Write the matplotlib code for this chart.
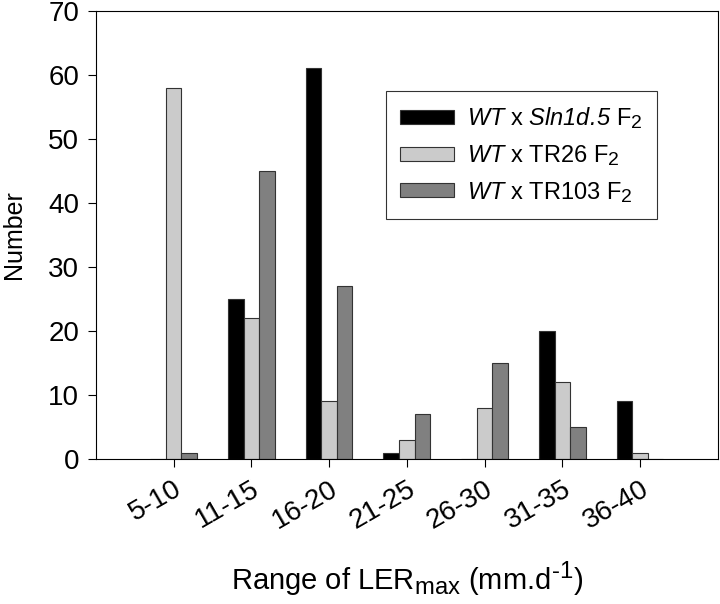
import numpy as np
import matplotlib
from matplotlib import pyplot as plt
import matplotlib._mathtext as mt

# the original figure uses larger sub/superscripts than mathtext's default
mt.SHRINK_FACTOR = 0.82

plt.rcParams['font.family'] = 'Liberation Sans'
plt.rcParams['mathtext.fontset'] = 'custom'
plt.rcParams['mathtext.rm'] = 'Liberation Sans'
plt.rcParams['mathtext.it'] = 'Liberation Sans:italic'
plt.rcParams['mathtext.sf'] = 'Liberation Sans:italic'

ranges = ["5-10", "11-15", "16-20", "21-25", "26-30", "31-35", "36-40"]
sln1d5 = [0, 25, 61, 1, 0, 20, 9]
tr26 = [58, 22, 9, 3, 8, 12, 1]
tr103 = [1, 45, 27, 7, 15, 5, 0]

x = np.arange(len(ranges))
w = 0.2

fig = plt.figure(figsize=(7.2, 6.04), dpi=100)
ax = fig.add_axes([0.133, 0.240, 0.864, 0.742])

# italic via the sf slot so digits come out slanted too
ax.bar(x - w, sln1d5, w, color="black", edgecolor="#333333", linewidth=0.8,
       label=r"$\mathsf{WT}$ x $\mathsf{Sln1d.\!5}$ F$_2$")
ax.bar(x, tr26, w, color="#cbcbcb", edgecolor="#333333", linewidth=0.8,
       label=r"$\mathsf{WT}$ x TR26 F$_2$")
ax.bar(x + w, tr103, w, color="#808080", edgecolor="#333333", linewidth=0.8,
       label=r"$\mathsf{WT}$ x TR103 F$_2$")

ax.set_xlim(-1, 7)
ax.set_ylim(0, 70)
ax.set_xticks(x)
ax.set_xticklabels(ranges, rotation=30, ha="right", rotation_mode="anchor")
ax.set_yticks(range(0, 71, 10))
ax.tick_params(labelsize=20, direction="out", length=6, width=0.8, pad=6)
for s in ax.spines.values():
    s.set_linewidth(0.8)

ax.set_ylabel("Number", fontsize=18, labelpad=16)
ax.set_xlabel("Range of LER$_{\\mathrm{max}}$ (mm.d$^{\u20101}$)", fontsize=21, labelpad=18)

leg = ax.legend(loc="upper left", bbox_to_anchor=(0.466, 0.821), fontsize=17,
                frameon=True, fancybox=False, edgecolor="black", borderaxespad=0,
                handlelength=2.3, handleheight=0.55, labelspacing=0.5,
                borderpad=0.6, handletextpad=0.55)
leg.get_frame().set_linewidth(0.8)

fig.savefig("out.png")
